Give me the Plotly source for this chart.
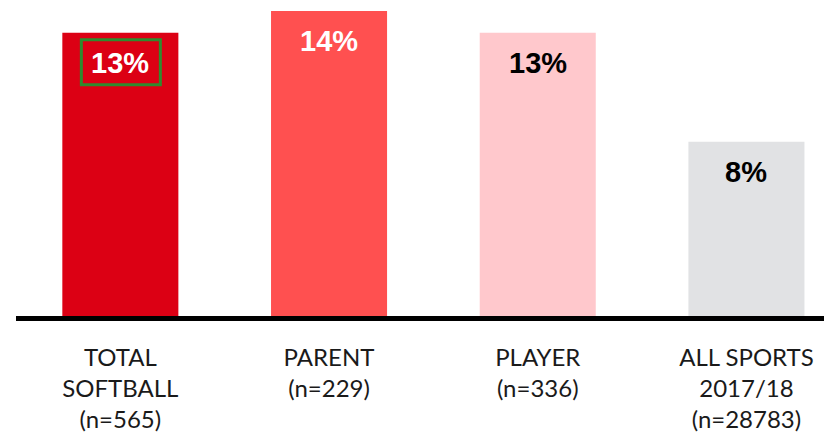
import plotly.graph_objects as go

categories = ["TOTAL<br>SOFTBALL<br>(n=565)", "PARENT<br>(n=229)", "PLAYER<br>(n=336)", "ALL SPORTS<br>2017/18<br>(n=28783)"]
values = [13, 14, 13, 8]
labels = ["13%", "14%", "13%", "8%"]
bar_colors = ["#DC0014", "#FF5050", "#FFC8CC", "#E1E2E4"]
label_colors = ["white", "white", "black", "black"]

xs = list(range(len(categories)))

fig = go.Figure()
fig.add_trace(go.Bar(x=xs, y=values, marker=dict(color=bar_colors, line=dict(width=0)),
                     width=0.556, hoverinfo="skip"))

for i, (v, t, c) in enumerate(zip(values, labels, label_colors)):
    fig.add_annotation(x=xs[i], y=v, text=f"<b>{t}</b>", showarrow=False,
                       yanchor="middle", yshift=-30,
                       font=dict(family="Liberation Sans, Arial", size=29, color=c))

# green highlight box around the first label
fig.add_shape(type="rect", xref="x", yref="y",
              xsizemode="pixel", ysizemode="pixel",
              xanchor=xs[0], yanchor=values[0],
              x0=-39, x1=40, y0=-7, y1=-52,
              line=dict(color="#2E8B2E", width=3))

# page body has an 8px default margin, so size the figure to fit the window
fig.update_layout(
    width=824, height=424,
    margin=dict(l=8, r=0, t=3, b=116, autoexpand=False),
    paper_bgcolor="white", plot_bgcolor="white",
    showlegend=False,
    xaxis=dict(range=[-0.5, 3.41], tickmode="array", tickvals=xs, ticktext=categories,
               showline=True, linecolor="black", linewidth=5, ticks="",
               showgrid=False, zeroline=False, automargin=False,
               ticklabelstandoff=16,
               tickfont=dict(family="Lato, Carlito, Calibri", size=24, color="#1a1a1a")),
    yaxis=dict(range=[0, 14], visible=False, showgrid=False, zeroline=False, automargin=False),
)

fig.write_html("out.html")
